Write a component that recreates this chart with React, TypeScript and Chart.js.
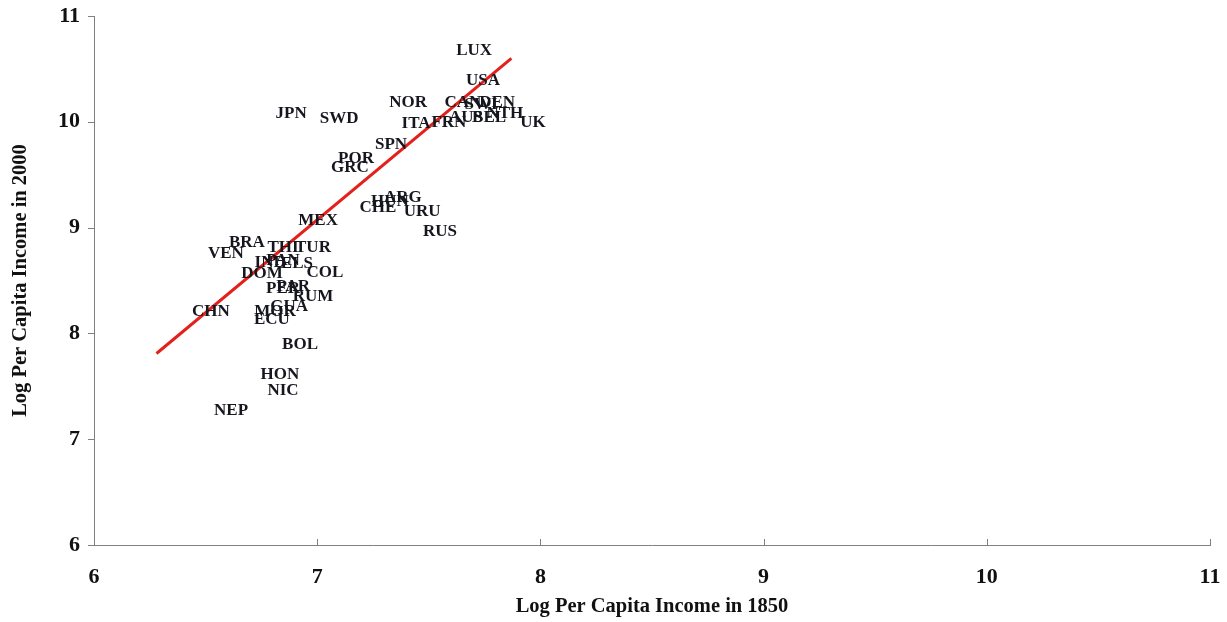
import React, { useEffect, useRef } from "react";
import { Chart, registerables } from "chart.js";

Chart.register(...registerables);

const countries = [
  "LUX", "USA", "NOR", "CAN", "SWI", "DEN", "AUS", "BEL", "NTH", "UK", "FRN", "ITA",
  "JPN", "SWD", "SPN", "POR", "GRC", "ARG", "HUN", "CHE", "URU", "RUS", "MEX",
  "BRA", "VEN", "THI", "TUR", "IND", "PAN", "ELS", "DOM", "COL", "PER", "PAR",
  "RUM", "GUA", "MOR", "ECU", "CHN", "BOL", "HON", "NIC", "NEP",
];
const income1850 = [
  7.703, 7.743, 7.407, 7.653, 7.734, 7.806, 7.667, 7.770, 7.841, 7.967, 7.590, 7.443,
  6.883, 7.098, 7.331, 7.174, 7.147, 7.384, 7.326, 7.272, 7.470, 7.550, 7.004,
  6.685, 6.591, 6.847, 6.981, 6.789, 6.847, 6.909, 6.753, 7.035, 6.847, 6.892,
  6.981, 6.874, 6.811, 6.797, 6.524, 6.923, 6.833, 6.847, 6.614,
];
const income2000 = [
  10.688, 10.404, 10.196, 10.196, 10.178, 10.196, 10.055, 10.055, 10.093, 10.007, 10.007, 9.998,
  10.100, 10.050, 9.800, 9.667, 9.582, 9.299, 9.261, 9.204, 9.166, 8.977, 9.081,
  8.873, 8.769, 8.826, 8.826, 8.684, 8.703, 8.675, 8.580, 8.590, 8.439, 8.457,
  8.363, 8.268, 8.221, 8.146, 8.221, 7.909, 7.626, 7.474, 7.285,
];
const fitX = [6.28, 7.87];
const fitY = [7.81, 10.6];
const xTicks = [6, 7, 8, 9, 10, 11];
const yTicks = [6, 7, 8, 9, 10, 11];

const labelPlugin = {
  id: "countryLabels",
  afterDatasetsDraw(chart: any) {
    const { ctx, scales } = chart;
    ctx.save();
    ctx.font = "bold 17px 'Liberation Serif', 'Times New Roman', serif";
    ctx.fillStyle = "#16161f";
    ctx.textAlign = "center";
    ctx.textBaseline = "middle";
    countries.forEach((c, i) => {
      ctx.fillText(c, scales.x.getPixelForValue(income1850[i]), scales.y.getPixelForValue(income2000[i]) + 2);
    });
    ctx.restore();
  },
  afterDraw(chart: any) {
    const { ctx, scales, chartArea } = chart;
    ctx.save();
    ctx.strokeStyle = "#808080";
    ctx.lineWidth = 1;
    ctx.beginPath();
    yTicks.forEach((v) => {
      const y = Math.round(scales.y.getPixelForValue(v)) + 0.5;
      ctx.moveTo(chartArea.left - 6, y);
      ctx.lineTo(chartArea.left, y);
    });
    xTicks.slice(1).forEach((v) => {
      const x = Math.round(scales.x.getPixelForValue(v)) + 0.5;
      ctx.moveTo(x, chartArea.bottom);
      ctx.lineTo(x, chartArea.bottom - 6);
    });
    ctx.stroke();
    ctx.restore();
  },
};

export default function App() {
  const ref = useRef<HTMLCanvasElement>(null);
  useEffect(() => {
    document.body.style.margin = "0";
    const fam = "'Liberation Serif', 'Times New Roman', serif";
    const tickFont = { family: fam, size: 22, weight: "bold" as const };
    const titleFont = { family: fam, size: 20.5, weight: "bold" as const };
    const chart = new Chart(ref.current!, {
      type: "scatter",
      data: {
        datasets: [
          {
            data: countries.map((c, i) => ({ x: income1850[i], y: income2000[i] })),
            pointRadius: 0,
            pointHoverRadius: 0,
            showLine: false,
          },
          {
            type: "line",
            data: fitX.map((x, i) => ({ x, y: fitY[i] })),
            borderColor: "#e3201c",
            borderWidth: 3,
            pointRadius: 0,
            fill: false,
          },
        ],
      },
      options: {
        animation: false,
        responsive: true,
        maintainAspectRatio: false,
        layout: { padding: { top: 16, right: 17, left: 0, bottom: 0 } },
        plugins: { legend: { display: false }, tooltip: { enabled: false } },
        scales: {
          x: {
            type: "linear",
            min: 6,
            max: 11,
            afterFit: (s: any) => {
              s.height = 77;
              s.paddingLeft = 0;
              s.paddingRight = 0;
            },
            afterBuildTicks: (s: any) => { s.ticks = xTicks.map((v) => ({ value: v })); },
            grid: { display: false },
            border: { display: true, color: "#808080", width: 1 },
            ticks: { color: "#111", font: tickFont, padding: 11, maxRotation: 0 },
            title: {
              display: true,
              text: "Log Per Capita Income in 1850",
              color: "#111",
              font: titleFont,
              padding: { top: 0, bottom: 3 },
            },
          },
          y: {
            type: "linear",
            min: 6,
            max: 11,
            afterFit: (s: any) => {
              s.width = 94;
              s.paddingTop = 0;
              s.paddingBottom = 0;
            },
            afterBuildTicks: (s: any) => { s.ticks = yTicks.map((v) => ({ value: v })); },
            grid: { display: false },
            border: { display: true, color: "#808080", width: 1 },
            ticks: { color: "#111", font: tickFont, padding: 6 },
            title: {
              display: true,
              text: "Log Per Capita Income in 2000",
              color: "#111",
              font: titleFont,
              padding: { top: 8, bottom: 0 },
            },
          },
        },
      },
      plugins: [labelPlugin],
    } as any);
    return () => chart.destroy();
  }, []);
  return (
    <div style={{ width: 1227, height: 622, position: "relative" }}>
      <canvas ref={ref} />
    </div>
  );
}
